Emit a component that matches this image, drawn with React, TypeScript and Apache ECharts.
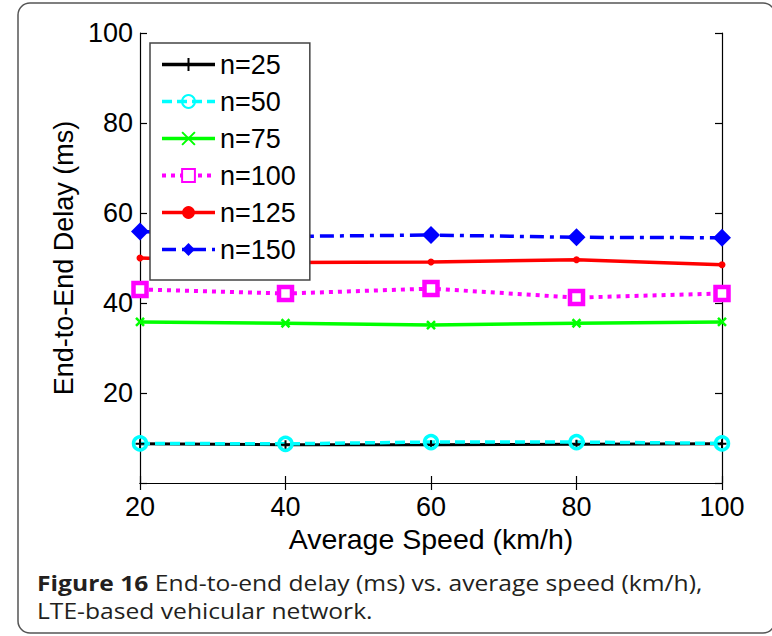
import React, { useEffect, useRef } from "react";
import * as echarts from "echarts";

const speeds = [20, 40, 60, 80, 100];
const n25 = [8.7, 8.5, 8.5, 8.6, 8.7];
const n50 = [8.8, 8.7, 9.1, 9.1, 8.8];
const n75 = [35.8, 35.5, 35.1, 35.5, 35.8];
const n100 = [43.0, 42.1, 43.2, 41.2, 42.1];
const n125 = [50.0, 49.0, 49.1, 49.6, 48.5];
const n150 = [55.9, 54.8, 55.1, 54.6, 54.5];
const seriesNames = ["n=25", "n=50", "n=75", "n=100", "n=125", "n=150"];
const xTitle = "Average Speed (km/h)";
const yTitle = "End-to-End Delay (ms)";
const captionBold = "Figure 16";
const captionRest1 = " End-to-end delay (ms) vs. average speed (km/h),";
const captionLine2 = "LTE-based vehicular network.";

const FONT = "'Liberation Sans', Arial, Helvetica, sans-serif";
const CAP_FONT = "'Open Sans', sans-serif";

export default function App() {
  const ref = useRef<HTMLDivElement>(null);
  useEffect(() => {
    if (!ref.current) return;
    const chart = echarts.init(ref.current, undefined, { renderer: "svg" });
    const pts = (arr: number[]) => speeds.map((s, i) => [s, arr[i]]);
    const axisCommon = {
      type: "value" as const,
      axisLine: { show: true, lineStyle: { color: "#000", width: 1.2 } },
      splitLine: { show: false },
      axisTick: { show: true, inside: true, length: 7, lineStyle: { color: "#000", width: 1.2 } },
    };
    const labelStyle = { color: "#000", fontSize: 27, fontFamily: FONT };
    const lw = 3.5;
    const widths = [lw, lw, lw, 4, lw, lw];
    chart.setOption({
      animation: false,
      backgroundColor: "#fff",
      grid: { left: 140, right: 50, top: 33, bottom: 153, containLabel: false },
      xAxis: [
        {
          ...axisCommon,
          min: 20,
          max: 100,
          interval: 20,
          position: "bottom",
          axisLabel: { ...labelStyle, margin: 10 },
          name: xTitle,
          nameLocation: "middle",
          nameGap: 38,
          nameTextStyle: { ...labelStyle, fontSize: 28.5 },
        },
        {
          ...axisCommon,
          min: 20,
          max: 100,
          interval: 20,
          position: "top",
          axisLabel: { show: false },
        },
      ],
      yAxis: [
        {
          ...axisCommon,
          min: 0,
          max: 100,
          interval: 20,
          position: "left",
          axisLabel: {
            ...labelStyle,
            margin: 7,
            formatter: (v: number) => (v === 0 ? "" : String(v)),
          },
          name: yTitle,
          nameLocation: "middle",
          nameGap: 62,
          nameRotate: 90,
          nameTextStyle: { ...labelStyle },
        },
        {
          ...axisCommon,
          min: 0,
          max: 100,
          interval: 20,
          position: "right",
          axisLabel: { show: false },
        },
      ],
      legend: {
        orient: "vertical",
        left: 150,
        top: 43,
        z: 20,
        data: seriesNames.map((name, i) => ({ name, lineStyle: { width: widths[i] } })),
        backgroundColor: "#fff",
        borderColor: "#444",
        borderWidth: 1.5,
        padding: [8, 14, 17, 10],
        itemWidth: 53,
        itemHeight: 16,
        itemGap: 10,
        textStyle: { color: "#000", fontSize: 27, fontFamily: FONT },
      },
      graphic: [
        {
          type: "rect",
          shape: { x: 18, y: 3, width: 757, height: 630, r: 12 },
          style: { fill: "none", stroke: "#555", lineWidth: 1.5 },
          silent: true,
          z: -1,
        },
        {
          type: "text",
          x: 37,
          y: 583,
          scaleX: 1.12,
          style: {
            rich: {
              b: { fontWeight: "bold", fontSize: 22, fontFamily: CAP_FONT, fill: "#231f20" },
              n: { fontSize: 22, fontFamily: CAP_FONT, fill: "#231f20" },
            },
            text: "{b|" + captionBold + "}{n|" + captionRest1 + "}",
            verticalAlign: "middle",
          },
        },
        {
          type: "text",
          x: 37,
          y: 611,
          scaleX: 1.12,
          style: {
            text: captionLine2,
            fontSize: 22,
            fontFamily: CAP_FONT,
            fill: "#231f20",
            verticalAlign: "middle",
          },
        },
      ],
      series: [
        {
          name: "n=25",
          type: "line",
          data: pts(n25),
          symbol: "path://M5,0V10M0,5H10",
          symbolSize: 9,
          itemStyle: { color: "#000", borderColor: "#000", borderWidth: 2 },
          lineStyle: { color: "#000", width: 3, type: "solid" },
          z: 2,
        },
        {
          name: "n=50",
          type: "line",
          data: pts(n50),
          symbol: "circle",
          symbolSize: 13,
          itemStyle: { color: "rgba(0,0,0,0)", borderColor: "#00ffff", borderWidth: 3.5 },
          lineStyle: { color: "#00ffff", width: lw, type: [10, 5] },
          z: 2,
        },
        {
          name: "n=75",
          type: "line",
          data: pts(n75),
          symbol: "path://M0,0L10,10M10,0L0,10",
          symbolSize: 8,
          itemStyle: { color: "#00ff00", borderColor: "#00ff00", borderWidth: 2.5 },
          lineStyle: { color: "#00ff00", width: lw, type: "solid" },
          z: 2,
        },
        {
          name: "n=100",
          type: "line",
          data: pts(n100),
          symbol: "rect",
          symbolSize: 13,
          itemStyle: { color: "#fff", borderColor: "#ff00ff", borderWidth: 4.5 },
          lineStyle: { color: "#ff00ff", width: 4, type: [4, 5] },
          z: 2,
        },
        {
          name: "n=125",
          type: "line",
          data: pts(n125),
          symbol: "circle",
          symbolSize: 7,
          itemStyle: { color: "#ff0000", borderColor: "#ff0000", borderWidth: 0 },
          lineStyle: { color: "#ff0000", width: lw, type: "solid" },
          z: 2,
        },
        {
          name: "n=150",
          type: "line",
          data: pts(n150),
          symbol: "diamond",
          symbolSize: 18,
          itemStyle: { color: "#0000ff", borderColor: "#0000ff", borderWidth: 0 },
          lineStyle: { color: "#0000ff", width: lw, type: [14, 6, 4, 6] },
          z: 2,
        },
      ],
    });
    return () => chart.dispose();
  }, []);
  return (
    <div
      ref={ref}
      style={{ position: "fixed", left: 0, top: 0, width: 772, height: 636, background: "#fff" }}
    />
  );
}
